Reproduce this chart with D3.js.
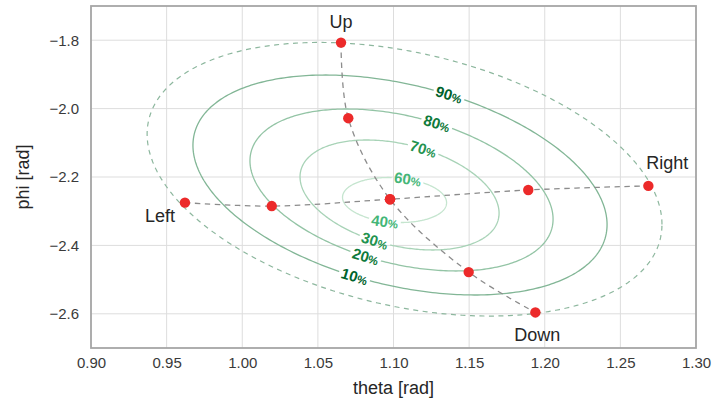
<!DOCTYPE html>
<html><head><meta charset="utf-8">
<script src="https://cdn.jsdelivr.net/npm/d3@7"></script>
<style>
body{margin:0;background:#fff;}
text{font-family:"Liberation Sans",Arial,sans-serif;}
</style></head>
<body><svg id="c" width="716" height="405"></svg>
<script>
// ---- data ----
const xTicks = [0.90,0.95,1.00,1.05,1.10,1.15,1.20,1.25,1.30];
const yTicks = [-1.8,-2.0,-2.2,-2.4,-2.6];
const xLabel = "theta [rad]";
const yLabel = "phi [rad]";
// sigma-point paths
const vertTheta = [1.0653, 1.0701, 1.0977, 1.1497, 1.1938];
const vertPhi   = [-1.807, -2.028, -2.265, -2.478, -2.596];
const horzTheta = [0.9621, 1.0195, 1.0977, 1.1891, 1.2685];
const horzPhi   = [-2.275, -2.285, -2.265, -2.238, -2.226];
const pointNames = ["Up","Down","Left","Right"];
// contour ellipses (center theta, center phi, half-extent theta, half-extent phi, correlation)
const ellCT  = [1.1007, 1.1040, 1.1053, 1.1043, 1.1073];
const ellCP  = [-2.2673, -2.2526, -2.2380, -2.2234, -2.2066];
const ellST  = [0.0344, 0.0658, 0.1002, 0.1369, 0.1702];
const ellSP  = [0.0658, 0.1608, 0.2368, 0.3216, 0.400];
const ellRho = [-0.12, -0.33, -0.36, -0.36, -0.33];
// contour labels: text, ellipse index, approx theta, approx phi
const labText  = ["90","80","70","60","40","30","20","10"];
const labEll   = [3,2,1,0,0,1,2,3];
const labTheta = [1.1367,1.1288,1.1195,1.1096,1.0944,1.0878,1.0812,1.0745];
const labPhi   = [-1.9602,-2.0421,-2.1211,-2.2000,-2.3257,-2.3842,-2.4368,-2.4865];

// ---- layout ----
const svg = d3.select("#c");
const L=91, R=696, T=6, B=348;
const x = d3.scaleLinear().domain([0.9,1.3]).range([L,R]);
const y = d3.scaleLinear().domain([-2.7,-1.7]).range([B,T]);

const ellStroke = ["#c5e5cf","#a8d3b7","#93c4a5","#82b696","#8db79e"];
const labColor = {"90":"#00632c","10":"#00632c","80":"#0f7a3b","20":"#0f7a3b","70":"#23934f","30":"#23934f","60":"#44b677","40":"#44b677"};

// grid
const g = svg.append("g");
g.selectAll(".gx").data(xTicks).join("line")
  .attr("x1",d=>x(d)).attr("x2",d=>x(d)).attr("y1",T).attr("y2",B)
  .attr("stroke","#dddddd").attr("stroke-width",1);
g.selectAll(".gy").data(yTicks).join("line")
  .attr("y1",d=>y(d)).attr("y2",d=>y(d)).attr("x1",L).attr("x2",R)
  .attr("stroke","#dddddd").attr("stroke-width",1);

// ellipse generators
function ellPt(i,t){
  const u=Math.cos(t), v=Math.sin(t), r=ellRho[i];
  return [ellCT[i]+ellST[i]*u, ellCP[i]+ellSP[i]*(r*u+Math.sqrt(1-r*r)*v)];
}
function ellPath(i){
  const pts=d3.range(0,361).map(k=>ellPt(i,k*Math.PI/180));
  return d3.line().x(d=>x(d[0])).y(d=>y(d[1]))(pts)+"Z";
}
// label placement: nearest point on ellipse in pixel space
const labels = labText.map((txt,j)=>{
  const i=labEll[j], px=x(labTheta[j]), py=y(labPhi[j]);
  let best=0,bd=1e9;
  for(let k=0;k<3600;k++){const t=k*Math.PI/1800;const p=ellPt(i,t);
    const dd=(x(p[0])-px)**2+(y(p[1])-py)**2; if(dd<bd){bd=dd;best=t;}}
  const p=ellPt(i,best), p2=ellPt(i,best+0.001);
  let ang=Math.atan2(y(p2[1])-y(p[1]), x(p2[0])-x(p[0]))*180/Math.PI;
  if(ang>90) ang-=180; if(ang<-90) ang+=180;
  return {txt, cx:x(p[0]), cy:y(p[1]), ang};
});

// mask for inline label gaps
const defs=svg.append("defs");
const mask=defs.append("mask").attr("id","lm").attr("maskUnits","userSpaceOnUse")
  .attr("x",0).attr("y",0).attr("width",716).attr("height",405);
mask.append("rect").attr("x",0).attr("y",0).attr("width",716).attr("height",405).attr("fill","#fff");
mask.selectAll("rect.h").data(labels).join("rect").attr("class","h")
  .attr("x",-16).attr("y",-6).attr("width",32).attr("height",12).attr("fill","#000")
  .attr("transform",d=>`translate(${d.cx},${d.cy}) rotate(${d.ang})`);

const cg=svg.append("g").attr("mask","url(#lm)");
[0,1,2,3].forEach(i=>{
  cg.append("path").attr("d",ellPath(i)).attr("fill","none")
    .attr("stroke",ellStroke[i]).attr("stroke-width",1.3);
});
svg.append("path").attr("d",ellPath(4)).attr("fill","none")
  .attr("stroke",ellStroke[4]).attr("stroke-width",1.2).attr("stroke-dasharray","5,4.5");

// contour labels
const lg=svg.selectAll("g.lab").data(labels).join("g")
  .attr("transform",d=>`translate(${d.cx},${d.cy}) rotate(${d.ang})`);
const lt=lg.append("text").attr("text-anchor","middle").attr("dy","0.36em")
  .attr("font-weight","bold").attr("font-size",15).attr("fill",d=>labColor[d.txt]);
lt.append("tspan").text(d=>d.txt);
lt.append("tspan").attr("font-size",11.5).text("%");

// sigma-point dashed paths
const vert=vertTheta.map((t,i)=>[t,vertPhi[i]]);
const horz=horzTheta.map((t,i)=>[t,horzPhi[i]]);
const ln=d3.line().x(d=>x(d[0])).y(d=>y(d[1])).curve(d3.curveCatmullRom.alpha(0.5));
[vert,horz].forEach(p=>svg.append("path").attr("d",ln(p)).attr("fill","none")
  .attr("stroke","#8c8c8c").attr("stroke-width",1.3).attr("stroke-dasharray","5.5,4.5"));

// points
const pts=vert.concat(horz);
svg.selectAll("circle.p").data(pts).join("circle")
  .attr("cx",d=>x(d[0])).attr("cy",d=>y(d[1])).attr("r",5.2).attr("fill","#ec2a2a");

// point labels
const named=[
 {n:pointNames[0],p:vert[0],dx:0,dy:-15,a:"middle"},
 {n:pointNames[1],p:vert[4],dx:2,dy:29,a:"middle"},
 {n:pointNames[2],p:horz[0],dx:-10,dy:19,a:"end"},
 {n:pointNames[3],p:horz[4],dx:-2,dy:-17,a:"start"}];
svg.selectAll("text.pn").data(named).join("text")
  .attr("x",d=>x(d.p[0])+d.dx).attr("y",d=>y(d.p[1])+d.dy)
  .attr("text-anchor",d=>d.a).attr("font-size",18).attr("fill","#262626").text(d=>d.n);

// frame
svg.append("rect").attr("x",L).attr("y",T).attr("width",R-L).attr("height",B-T)
  .attr("fill","none").attr("stroke","#a6a6a6").attr("stroke-width",1.8);

// axes
const xa=svg.append("g").attr("transform",`translate(0,${B})`)
  .call(d3.axisBottom(x).tickValues(xTicks).tickFormat(d3.format(".2f")).tickSize(0).tickPadding(9));
const ya=svg.append("g").attr("transform",`translate(${L},0)`)
  .call(d3.axisLeft(y).tickValues(yTicks).tickFormat(d3.format(".1f")).tickSize(0).tickPadding(12));
[xa,ya].forEach(a=>{a.select(".domain").remove();
  a.selectAll("text").attr("font-size",15).attr("fill","#3a3a3a").attr("font-family","'Liberation Sans',Arial,sans-serif");});

svg.append("text").attr("x",(L+R)/2).attr("y",394).attr("text-anchor","middle")
  .attr("font-size",18).attr("fill","#262626").text(xLabel);
svg.append("text").attr("transform",`translate(29,${(T+B)/2}) rotate(-90)`).attr("text-anchor","middle")
  .attr("font-size",18).attr("fill","#262626").text(yLabel);
</script></body></html>
